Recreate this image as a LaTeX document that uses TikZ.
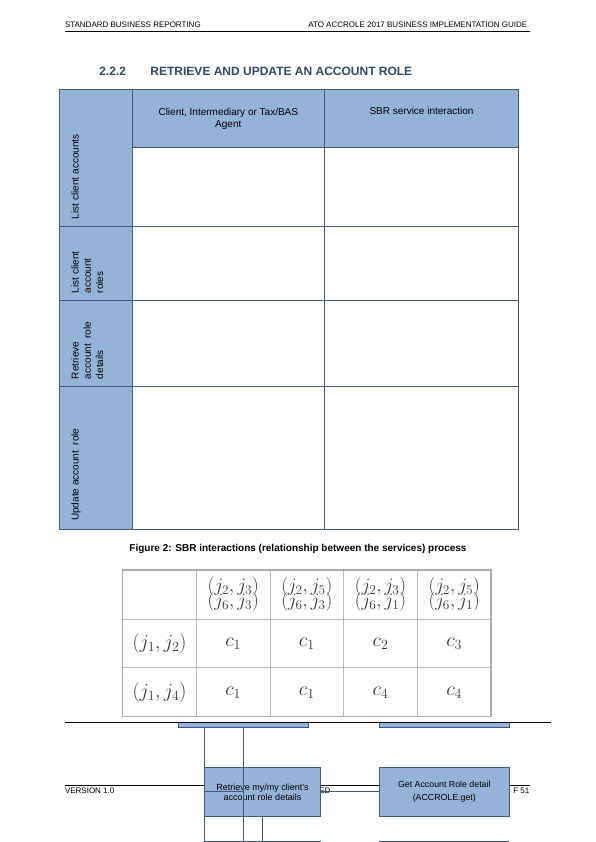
\RequirePackage{fix-cm}
\documentclass[tikz,border=0pt]{standalone}
\usepackage[no-math]{fontspec}
\setmainfont{Liberation Sans}
\usetikzlibrary{positioning, calc}
\definecolor{sbrblue}{HTML}{95B3D7}
\definecolor{sbrline}{HTML}{41597A}
\definecolor{secblue}{HTML}{2E4A69}
\definecolor{mathtxt}{HTML}{383838}

\begin{document}
\begin{tikzpicture}[
  x=1pt, y=-1pt,
  every node/.style={inner sep=0pt, outer sep=0pt, align=center},
  pagetxt/.style ={font=\fontsize{8}{9.6}\selectfont},
  sectxt/.style  ={font=\bfseries\fontsize{12}{14}\selectfont, text=secblue},
  blucell/.style ={rectangle, draw=sbrline, fill=sbrblue, line width=0.8pt},
  bodycell/.style={rectangle, draw=sbrline, fill=white, line width=0.8pt},
  headtxt/.style ={font=\fontsize{10}{12.3}\selectfont, anchor=north},
  rowlab/.style  ={font=\fontsize{10}{12.3}\selectfont, rotate=90, anchor=north west, align=left},
  mcell/.style   ={rectangle, draw=gray!55, line width=0.8pt, minimum width=73.66pt, minimum height=48.9pt, anchor=north west, text=mathtxt},
  svcbox/.style  ={rectangle, draw=sbrline, fill=sbrblue, line width=0.8pt, minimum height=49pt, anchor=north west},
  glitch/.style  ={sbrline, line width=0.8pt}
]
\useasboundingbox[fill=white] (0,0) rectangle (596,842);

% page header
\node[pagetxt, anchor=base west] (hdrL) at (65,27.5) {STANDARD BUSINESS REPORTING};
\node[pagetxt, anchor=base east] (hdrR) at (527.3,27.5) {ATO ACCROLE 2017 BUSINESS IMPLEMENTATION GUIDE};
\draw[line width=0.9pt] (hdrL.base west |- 0,31) -- (530,31);

% section heading
\node[sectxt, anchor=base west] (secnum) at (99.3,75.4) {2.2.2};
\node[sectxt, base right=24.5pt of secnum] (sectitle) {RETRIEVE AND UPDATE AN ACCOUNT ROLE};

% swimlane table
\node[blucell, minimum width=73pt, minimum height=136.7pt, anchor=north west] (labA) at (59.3,89.3) {};
\node[blucell, minimum width=73pt, minimum height=74.3pt, below=0pt of labA] (labB) {};
\node[blucell, minimum width=73pt, minimum height=85.7pt, below=0pt of labB] (labC) {};
\node[blucell, minimum width=73pt, minimum height=143.3pt, below=0pt of labC] (labD) {};

\node[blucell, minimum width=192pt, minimum height=58pt, anchor=north west] (agent) at (labA.north east) {};
\node[blucell, minimum width=194.4pt, minimum height=58pt, right=0pt of agent] (sbr) {};

\foreach \lab/\h [count=\i] in {labA/78.7, labB/74.3, labC/85.7, labD/143.3}{
  \node[bodycell, minimum width=192pt, minimum height=\h pt, anchor=south west] (a\i) at (\lab.south east) {};
  \node[bodycell, minimum width=194.4pt, minimum height=\h pt, right=0pt of a\i] (b\i) {};
}

\node[headtxt] (agentTxt) at ($(agent.north)+(0,18.6)$) {Client, Intermediary or Tax/BAS\\Agent};
\node[headtxt] (sbrTxt)   at ($(sbr.north)+(0,18.2)$)   {SBR service interaction};

\node[rowlab] (labAtxt) at ($(labA.south west)+(12.1,-7)$) {List client accounts};
\node[rowlab] (labBtxt) at ($(labB.south west)+(12.1,-7)$) {List client\\account\\roles};
\node[rowlab] (labCtxt) at ($(labC.south west)+(12.1,-7)$) {Retrieve\\account\ \ role\\details};
\node[rowlab] (labDtxt) at ($(labD.south west)+(12.1,-8.5)$) {Update account\ \ role};

% caption
\node[font=\bfseries\fontsize{10}{12}\selectfont, anchor=base] (caption) at (298,551.3)
  {Figure 2: SBR interactions (relationship between the services) process};

% pasted matrix
\foreach \txt [count=\c from 0] in {{}, {$(j_2,j_3)$\\[-5pt]$(j_6,j_3)$}, {$(j_2,j_5)$\\[-5pt]$(j_6,j_3)$},
                                     {$(j_2,j_3)$\\[-5pt]$(j_6,j_1)$}, {$(j_2,j_5)$\\[-5pt]$(j_6,j_1)$}}
  \node[mcell, font=\fontsize{19}{15}\selectfont] (m0\c) at (122.7+\c*73.66, 570) {\txt};
\foreach \rh [count=\r] in {{$(j_1,j_2)$}, {$(j_1,j_4)$}}
  \node[mcell, font=\fontsize{20}{24}\selectfont] (m\r0) at (122.7, 570+\r*48.9) {\rh};
\foreach \v [count=\c] in {1,1,2,3}
  \node[mcell, font=\fontsize{20}{24}\selectfont] (m1\c) at (122.7+\c*73.66, 618.9) {$c_{\v}$};
\foreach \v [count=\c] in {1,1,4,4}
  \node[mcell, font=\fontsize{20}{24}\selectfont] (m2\c) at (122.7+\c*73.66, 667.8) {$c_{\v}$};
\draw[gray!65, line width=1.5pt] (m00.north west) rectangle (m24.south east);

% leftovers of the next page
\node[blucell, minimum width=130.4pt, minimum height=5pt, anchor=north west] (barA) at (178.3,722.3) {};
\node[blucell, minimum width=130pt, minimum height=5pt, anchor=north west] (barB) at (379.3,722.3) {};
\draw[line width=0.9pt] (65,722.5) -- (551,722.5);

\draw[line width=0.8pt] (65,785) -- (530,785);
\node[pagetxt, anchor=base west] (version) at (65,793.6) {VERSION 1.0};
\node[pagetxt, anchor=base east] (classif) at (330.5,793.6) {ED};
\node[pagetxt, anchor=base east] (pageno)  at (529.3,793.6) {F 51};

\node[svcbox, minimum width=116.4pt, font=\fontsize{9}{10}\selectfont] (retr) at (204.3,767.3)
  {Retrieve my/my client's\\account role details};
\node[svcbox, minimum width=130pt, font=\fontsize{8.8}{13.4}\selectfont] (getrole) at (379.3,767.3)
  {Get Account Role detail\\(ACCROLE.get)};

\coordinate (endA) at (204.3,842);
\coordinate (endB) at (243.3,842);
\coordinate (endC) at (262.3,842);
\coordinate (midH) at (243.3,791);
\coordinate (pagebot) at (0,841.3);

\draw[glitch] (barA.south -| endA) -- (endA);
\draw[glitch] (barA.south -| endB) -- (endB);
\draw[glitch] (retr.south -| endC) -- (endC);
\draw[glitch] (retr.west |- midH) -- (midH);
\draw[glitch] (retr.east |- midH) -- (getrole.west |- midH);
\draw[glitch] (retr.west |- pagebot) -- (retr.east |- pagebot);
\draw[glitch] (getrole.west |- pagebot) -- (getrole.east |- pagebot);

\end{tikzpicture}
\end{document}
